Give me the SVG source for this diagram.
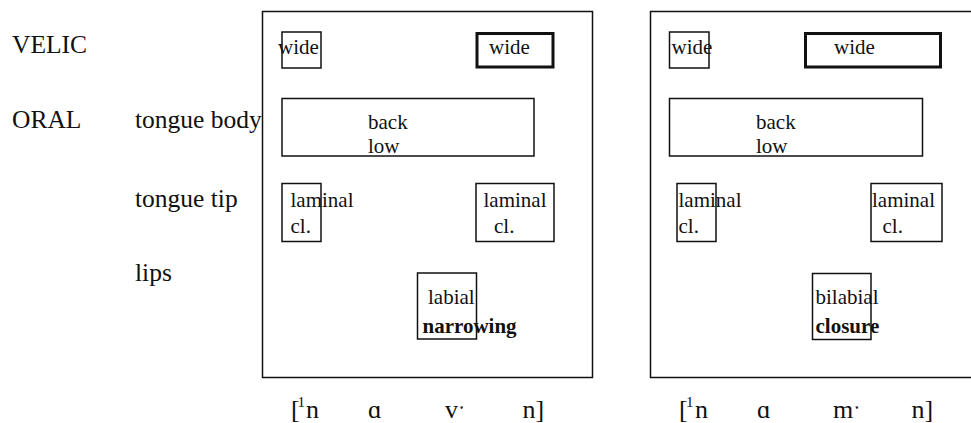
<svg xmlns="http://www.w3.org/2000/svg" width="971" height="423" viewBox="0 0 971 423" font-family="'Liberation Serif', 'DejaVu Serif', serif">
<style>
  text { font-family: "Liberation Serif", "DejaVu Serif", serif; fill: #111; }
  .lab { font-size: 25.5px; }
  .in { font-size: 21px; }
  .b { font-weight: bold; }
  .tr { font-size: 26px; }
  .sup { font-size: 15px; }
  .panel { fill: none; stroke: #111; stroke-width: 1.5; }
  .box { fill: none; stroke: #111; stroke-width: 1.5; }
  .thick { fill: none; stroke: #111; stroke-width: 3; }
</style>
<rect width="971" height="423" fill="#fff"/>
<g id="row-labels">
  <text class="lab" x="12" y="53">VELIC</text>
  <text class="lab" x="12" y="128">ORAL</text>
  <text class="lab" x="135" y="128">tongue body</text>
  <text class="lab" x="135" y="207">tongue tip</text>
  <text class="lab" x="135" y="281">lips</text>
</g>
<g id="panel-left">
  <rect class="panel" x="262.5" y="11.5" width="330" height="366"/>
  <g id="L-velic-1"><rect class="box" x="282" y="32" width="39" height="36"/><text class="in" x="278" y="54">wide</text></g>
  <g id="L-velic-2"><rect class="thick" x="477" y="33.5" width="76" height="33.5"/><text class="in" x="489" y="54">wide</text></g>
  <g id="L-body"><rect class="box" x="282" y="98.5" width="252" height="57.5"/><text class="in" x="368" y="128.5">back</text><text class="in" x="368" y="152.5">low</text></g>
  <g id="L-tip-1"><rect class="box" x="282" y="183.5" width="39" height="58"/><text class="in" x="290.5" y="207">laminal</text><text class="in" x="290.5" y="232.5">cl.</text></g>
  <g id="L-tip-2"><rect class="box" x="476" y="183.5" width="78" height="58"/><text class="in" x="483.5" y="207">laminal</text><text class="in" x="494" y="232.5">cl.</text></g>
  <g id="L-lips"><rect class="box" x="417.5" y="273" width="59" height="66"/><text class="in" x="428" y="304">labial</text><text class="in b" x="422.5" y="332.5">narrowing</text></g>
  <g id="L-transcription">
    <text class="tr" x="291" y="418">[</text>
    <text class="sup" x="297.5" y="407">1</text>
    <text class="tr" x="306" y="418">n</text>
    <text class="tr" x="368" y="418">ɑ</text>
    <text class="tr" x="445" y="418">vˑ</text>
    <text class="tr" x="522.5" y="418">n]</text>
  </g>
</g>
<g id="panel-right">
  <rect class="panel" x="650.5" y="11.5" width="330" height="366"/>
  <g id="R-velic-1"><rect class="box" x="669.5" y="32" width="39.5" height="36"/><text class="in" x="671.5" y="54">wide</text></g>
  <g id="R-velic-2"><rect class="thick" x="805.5" y="33.5" width="135" height="33.5"/><text class="in" x="834" y="54">wide</text></g>
  <g id="R-body"><rect class="box" x="669.5" y="98.5" width="253" height="57.5"/><text class="in" x="756" y="128.5">back</text><text class="in" x="756" y="152.5">low</text></g>
  <g id="R-tip-1"><rect class="box" x="677" y="183.5" width="39" height="58"/><text class="in" x="678.5" y="207">laminal</text><text class="in" x="678.5" y="232.5">cl.</text></g>
  <g id="R-tip-2"><rect class="box" x="871" y="183.5" width="71" height="58"/><text class="in" x="872" y="207">laminal</text><text class="in" x="882.5" y="232.5">cl.</text></g>
  <g id="R-lips"><rect class="box" x="812.5" y="273.5" width="58.5" height="66"/><text class="in" x="815.5" y="304">bilabial</text><text class="in b" x="815.5" y="332.5">closure</text></g>
  <g id="R-transcription">
    <text class="tr" x="679" y="418">[</text>
    <text class="sup" x="686" y="407">1</text>
    <text class="tr" x="695" y="418">n</text>
    <text class="tr" x="757" y="418">ɑ</text>
    <text class="tr" x="833" y="418">mˑ</text>
    <text class="tr" x="911.5" y="418">n]</text>
  </g>
</g>
</svg>
